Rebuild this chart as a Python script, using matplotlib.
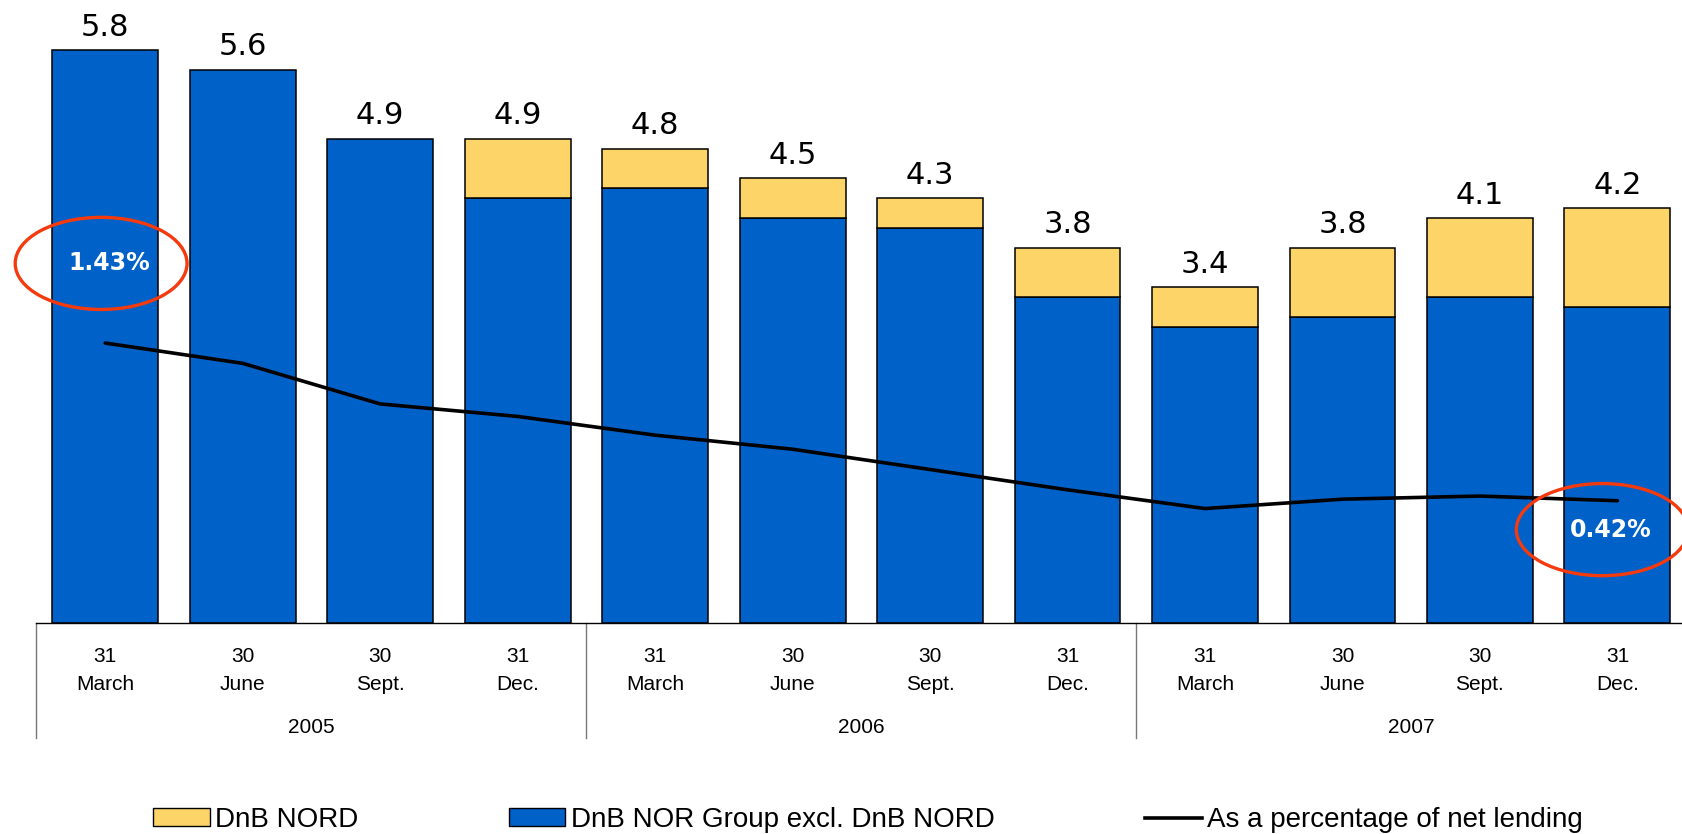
import matplotlib
matplotlib.use("Agg")
import matplotlib.pyplot as plt
from matplotlib import font_manager
from matplotlib.patches import Patch, Ellipse
from matplotlib.lines import Line2D
from matplotlib.transforms import blended_transform_factory

plt.rcParams["font.family"] = ["Liberation Sans", "DejaVu Sans"]

days = ["31", "30", "30", "31"] * 3
months = ["March", "June", "Sept.", "Dec."] * 3
years = ["2005", "2006", "2007"]
totals = [5.8, 5.6, 4.9, 4.9, 4.8, 4.5, 4.3, 3.8, 3.4, 3.8, 4.1, 4.2]
nord = [0.0, 0.0, 0.0, 0.6, 0.4, 0.4, 0.3, 0.5, 0.4, 0.7, 0.8, 1.0]
pct_lending = [1.43, 1.30, 1.04, 0.96, 0.84, 0.75, 0.62, 0.49, 0.37, 0.43, 0.45, 0.42]

BLUE = "#0061C8"
YELLOW = "#FDD468"
RED = "#F53A0E"

# narrow face for the date axis if it is there
installed = {f.name for f in font_manager.fontManager.ttflist}
if "Liberation Sans Narrow" in installed:
    axis_font = dict(family=["Liberation Sans Narrow", "DejaVu Sans"], size=17)
else:
    axis_font = dict(family=["Liberation Sans", "DejaVu Sans"], size=15)

group = [t - n for t, n in zip(totals, nord)]
x = list(range(len(totals)))

fig = plt.figure(figsize=(16.82, 8.34), dpi=100)
ax = fig.add_axes([0.0217, 0.253, 0.9783, 0.747])

# stacked bars: group excl. NORD at the bottom, NORD on top
ax.bar(x, group, width=0.77, color=BLUE, edgecolor="black", linewidth=1.1, zorder=2)
xs = [i for i in x if nord[i] > 0]
ax.bar(xs, [nord[i] for i in xs], bottom=[group[i] for i in xs], width=0.77,
       color=YELLOW, edgecolor="black", linewidth=1.1, zorder=2)

for i, t in zip(x, totals):
    ax.annotate(f"{t:.1f}", (i, t), xytext=(0, 6), textcoords="offset points",
                ha="center", va="bottom", fontsize=22, family="DejaVu Sans")

ax.set_xlim(-0.5, 11.47)
ax.set_ylim(0, 6.305)
for s in ["top", "left", "right"]:
    ax.spines[s].set_visible(False)
ax.spines["bottom"].set_linewidth(1.0)
ax.set_yticks([])
ax.set_xticks(x, [f"{d}\n{m}" for d, m in zip(days, months)])
ax.tick_params(axis="x", length=0, pad=17)
for lbl in ax.get_xticklabels():
    lbl.set_linespacing(1.6)
    lbl.set_fontfamily(axis_font["family"])
    lbl.set_fontsize(axis_font["size"])

# year groups and separators
trans = blended_transform_factory(ax.transData, ax.transAxes)
for k, yr in enumerate(years):
    ax.text(4 * k + 1.5, -0.167, yr, transform=trans, ha="center", va="center",
            fontfamily=axis_font["family"], fontsize=axis_font["size"])
    ax.plot([4 * k - 0.5, 4 * k - 0.5], [0, -0.185], transform=trans,
            color="#777777", lw=1.0, clip_on=False)

# loan-loss line on its own scale
ax2 = ax.twinx()
ax2.plot(x, pct_lending, color="black", lw=2.6, solid_capstyle="round", zorder=3)
ax2.set_ylim(-0.363, 3.627)
ax2.axis("off")

# highlight first and last values, text anchored inside each ring
marks = [((-0.03, 1.94), "1.43%"), ((10.89, 0.235), "0.42%")]
for (cx, cy), txt in marks:
    ring = Ellipse((cx, cy), 1.25, 0.59, fill=False, edgecolor=RED,
                   lw=2.4, clip_on=False, zorder=5)
    ax2.add_patch(ring)
    ax2.annotate(txt, xy=(0.55, 0.5), xycoords=ring, ha="center", va="center",
                 color="white", fontsize=17, fontweight="bold",
                 family="DejaVu Sans", zorder=6, annotation_clip=False)

handles = [Patch(facecolor=YELLOW, edgecolor="black", lw=1.0),
           Patch(facecolor=BLUE, edgecolor="black", lw=1.0),
           Line2D([], [], color="black", lw=2.6)]
labels = ["DnB NORD", "DnB NOR Group excl. DnB NORD", "As a percentage of net lending"]
fig.legend(handles, labels, loc="center", bbox_to_anchor=(0.516, 0.0168), ncol=3,
           frameon=False, fontsize=20, handlelength=2.05, handleheight=0.62,
           handletextpad=0.2, columnspacing=5.4)

fig.savefig("out.png", dpi=100)
